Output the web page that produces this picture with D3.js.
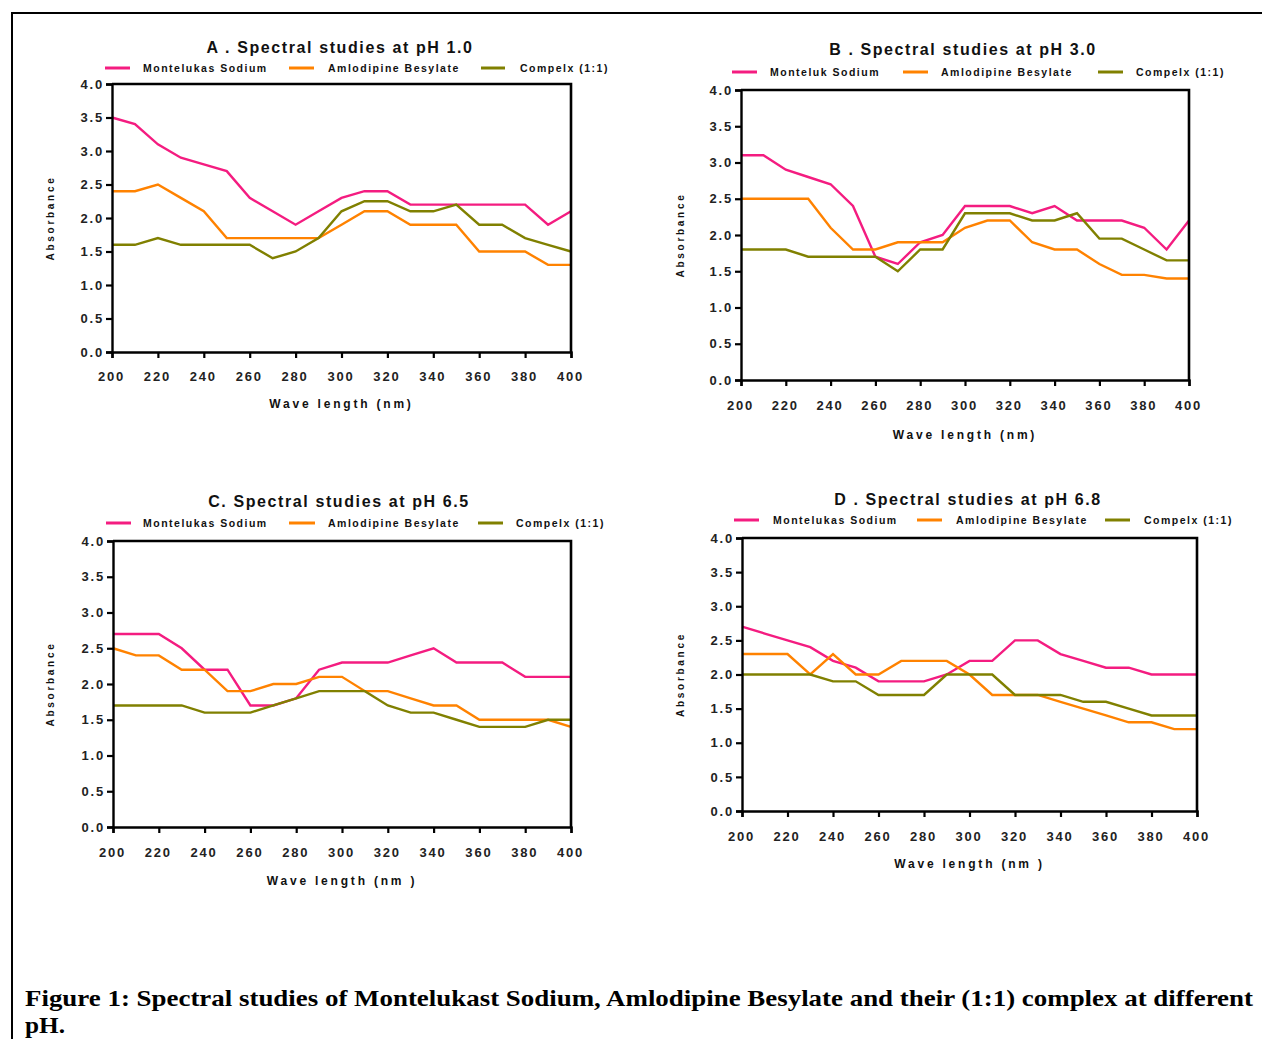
<!DOCTYPE html>
<html>
<head>
<meta charset="utf-8">
<script src="https://cdn.jsdelivr.net/npm/d3@7"></script>
<style>
  html, body { margin: 0; padding: 0; background: #fff; }
  svg { display: block; }
</style>
</head>
<body>
<svg id="chart" width="1262" height="1039"></svg>
<script>
// ---------------- data ----------------
const wavelengths = [200,210,220,230,240,250,260,270,280,290,300,310,320,330,340,350,360,370,380,390,400];
const xTickValues = [200,220,240,260,280,300,320,340,360,380,400];
const yTickValues = [0,0.5,1.0,1.5,2.0,2.5,3.0,3.5,4.0];

const montA = [3.5,3.4,3.1,2.9,2.8,2.7,2.3,2.1,1.9,2.1,2.3,2.4,2.4,2.2,2.2,2.2,2.2,2.2,2.2,1.9,2.1];
const amloA = [2.4,2.4,2.5,2.3,2.1,1.7,1.7,1.7,1.7,1.7,1.9,2.1,2.1,1.9,1.9,1.9,1.5,1.5,1.5,1.3,1.3];
const compA = [1.6,1.6,1.7,1.6,1.6,1.6,1.6,1.4,1.5,1.7,2.1,2.25,2.25,2.1,2.1,2.2,1.9,1.9,1.7,1.6,1.5];

const montB = [3.1,3.1,2.9,2.8,2.7,2.4,1.7,1.6,1.9,2.0,2.4,2.4,2.4,2.3,2.4,2.2,2.2,2.2,2.1,1.8,2.2];
const amloB = [2.5,2.5,2.5,2.5,2.1,1.8,1.8,1.9,1.9,1.9,2.1,2.2,2.2,1.9,1.8,1.8,1.6,1.45,1.45,1.4,1.4];
const compB = [1.8,1.8,1.8,1.7,1.7,1.7,1.7,1.5,1.8,1.8,2.3,2.3,2.3,2.2,2.2,2.3,1.95,1.95,1.8,1.65,1.65];

const montC = [2.7,2.7,2.7,2.5,2.2,2.2,1.7,1.7,1.8,2.2,2.3,2.3,2.3,2.4,2.5,2.3,2.3,2.3,2.1,2.1,2.1];
const amloC = [2.5,2.4,2.4,2.2,2.2,1.9,1.9,2.0,2.0,2.1,2.1,1.9,1.9,1.8,1.7,1.7,1.5,1.5,1.5,1.5,1.4];
const compC = [1.7,1.7,1.7,1.7,1.6,1.6,1.6,1.7,1.8,1.9,1.9,1.9,1.7,1.6,1.6,1.5,1.4,1.4,1.4,1.5,1.5];

const montD = [2.7,2.6,2.5,2.4,2.2,2.1,1.9,1.9,1.9,2.0,2.2,2.2,2.5,2.5,2.3,2.2,2.1,2.1,2.0,2.0,2.0];
const amloD = [2.3,2.3,2.3,2.0,2.3,2.0,2.0,2.2,2.2,2.2,2.0,1.7,1.7,1.7,1.6,1.5,1.4,1.3,1.3,1.2,1.2];
const compD = [2.0,2.0,2.0,2.0,1.9,1.9,1.7,1.7,1.7,2.0,2.0,2.0,1.7,1.7,1.7,1.6,1.6,1.5,1.4,1.4,1.4];

const panelTitles = ["A . Spectral studies at pH 1.0", "B . Spectral studies at pH 3.0",
                     "C. Spectral studies at pH 6.5", "D . Spectral studies at pH 6.8"];
const legendNamesA = ["Montelukas Sodium", "Amlodipine Besylate", "Compelx (1:1)"];
const legendNamesB = ["Monteluk Sodium", "Amlodipine Besylate", "Compelx (1:1)"];
const xAxisTitles = ["Wave length (nm)", "Wave length (nm)", "Wave length (nm )", "Wave length (nm )"];
const yAxisTitle = "Absorbance";
const caption1 = "Figure 1: Spectral studies of Montelukast Sodium, Amlodipine Besylate and their (1:1) complex at different";
const caption2 = "pH.";
const seriesColors = ["#F41C80", "#FF8200", "#808000"];

// ---------------- layout ----------------
const panels = [
  { series:[montA, amloA, compA], names:legendNamesA, title:panelTitles[0], xt:xAxisTitles[0],
    x0:112, x1:571, y0:84, y1:352, titleX:340, titleY:53, legY:68,
    leg:[[105,130,143],[289,314,328],[481,505,520]], tickY:381, axY:408, absX:50 },
  { series:[montB, amloB, compB], names:legendNamesB, title:panelTitles[1], xt:xAxisTitles[1],
    x0:741, x1:1189, y0:90, y1:380, titleX:963, titleY:55, legY:72,
    leg:[[732,757,770],[903,928,941],[1098,1123,1136]], tickY:410, axY:439, absX:680 },
  { series:[montC, amloC, compC], names:legendNamesA, title:panelTitles[2], xt:xAxisTitles[2],
    x0:113, x1:571, y0:541, y1:827, titleX:339, titleY:507, legY:523,
    leg:[[106,131,143],[289,315,328],[478,503,516]], tickY:857, axY:885, absX:50 },
  { series:[montD, amloD, compD], names:legendNamesA, title:panelTitles[3], xt:xAxisTitles[3],
    x0:742, x1:1197, y0:538, y1:811, titleX:968, titleY:505, legY:520,
    leg:[[734,759,773],[917,942,956],[1105,1130,1144]], tickY:841, axY:868, absX:680 }
];

const svg = d3.select("#chart");
const FONT = "'Liberation Sans', Arial, Helvetica, sans-serif";

// outer frame
svg.append("path").attr("d", "M12,1039 V13 H1262").attr("fill","none").attr("stroke","#000").attr("stroke-width",2);

panels.forEach(p => {
  const g = svg.append("g");
  const x = d3.scaleLinear().domain([200,400]).range([p.x0, p.x1]);
  const y = d3.scaleLinear().domain([0,4]).range([p.y1, p.y0]);

  // series
  const line = d3.line().x((d,i) => x(wavelengths[i])).y(d => y(d));
  p.series.forEach((s, k) => {
    g.append("path").datum(s).attr("d", line).attr("fill","none")
      .attr("stroke", seriesColors[k]).attr("stroke-width", 2.4).attr("stroke-linejoin","miter");
  });

  // frame top/right
  g.append("path").attr("d", `M${p.x0},${p.y0} H${p.x1} V${p.y1}`).attr("fill","none")
    .attr("stroke","#000").attr("stroke-width",2.6);

  // axes
  const xAxis = d3.axisBottom(x).tickValues(xTickValues).tickSize(6).tickFormat(d3.format("d"));
  const gx = g.append("g").attr("transform", `translate(0,${p.y1})`).call(xAxis);
  const yAxis = d3.axisLeft(y).tickValues(yTickValues).tickSize(6).tickFormat(d3.format(".1f"));
  const gy = g.append("g").attr("transform", `translate(${p.x0},0)`).call(yAxis);
  [gx, gy].forEach(ax => {
    ax.select(".domain").attr("stroke","#000").attr("stroke-width",2.4);
    ax.selectAll(".tick line").attr("stroke","#000").attr("stroke-width",2.2);
    ax.selectAll(".tick text").attr("fill","#222").style("font-family",FONT)
      .style("font-weight","bold").style("font-size","13px").style("letter-spacing","1.8px");
  });
  gx.selectAll(".tick text").attr("y", null).attr("dy", null)
    .attr("transform", `translate(-1,${p.tickY - p.y1})`);
  gy.selectAll(".tick text").attr("x", -8).attr("dx", null);

  // title
  g.append("text").attr("x", p.titleX).attr("y", p.titleY).attr("text-anchor","middle")
    .style("font-family",FONT).style("font-weight","bold").style("font-size","16px")
    .style("letter-spacing","1.6px").attr("fill","#111").text(p.title);

  // legend
  p.names.forEach((nm, k) => {
    const L = p.leg[k];
    g.append("line").attr("x1",L[0]).attr("x2",L[1]).attr("y1",p.legY).attr("y2",p.legY)
      .attr("stroke",seriesColors[k]).attr("stroke-width",3);
    g.append("text").attr("x",L[2]).attr("y",p.legY+4)
      .style("font-family",FONT).style("font-weight","bold").style("font-size","10.5px")
      .style("letter-spacing","1.5px").attr("fill","#111").text(nm);
  });

  // axis titles
  g.append("text").attr("x", (p.x0+p.x1)/2).attr("y", p.axY).attr("text-anchor","middle")
    .style("font-family",FONT).style("font-weight","bold").style("font-size","12px")
    .style("letter-spacing","2.8px").attr("fill","#111").text(p.xt);
  g.append("text").attr("transform", `translate(${p.absX + 4},${(p.y0+p.y1)/2}) rotate(-90)`)
    .attr("text-anchor","middle")
    .style("font-family",FONT).style("font-weight","bold").style("font-size","10px")
    .style("letter-spacing","2.7px").attr("fill","#111").text(yAxisTitle);
});

// caption
const CAPFONT = "'Liberation Serif','Times New Roman',serif";
svg.append("text").attr("x",25).attr("y",1006)
  .attr("textLength", 1228).attr("lengthAdjust","spacingAndGlyphs")
  .style("font-family",CAPFONT).style("font-weight","bold")
  .style("font-size","24px").attr("fill","#000").text(caption1);
svg.append("text").attr("x",25).attr("y",1033)
  .attr("textLength", 40).attr("lengthAdjust","spacingAndGlyphs")
  .style("font-family",CAPFONT).style("font-weight","bold")
  .style("font-size","24px").attr("fill","#000").text(caption2);
</script>
</body>
</html>
